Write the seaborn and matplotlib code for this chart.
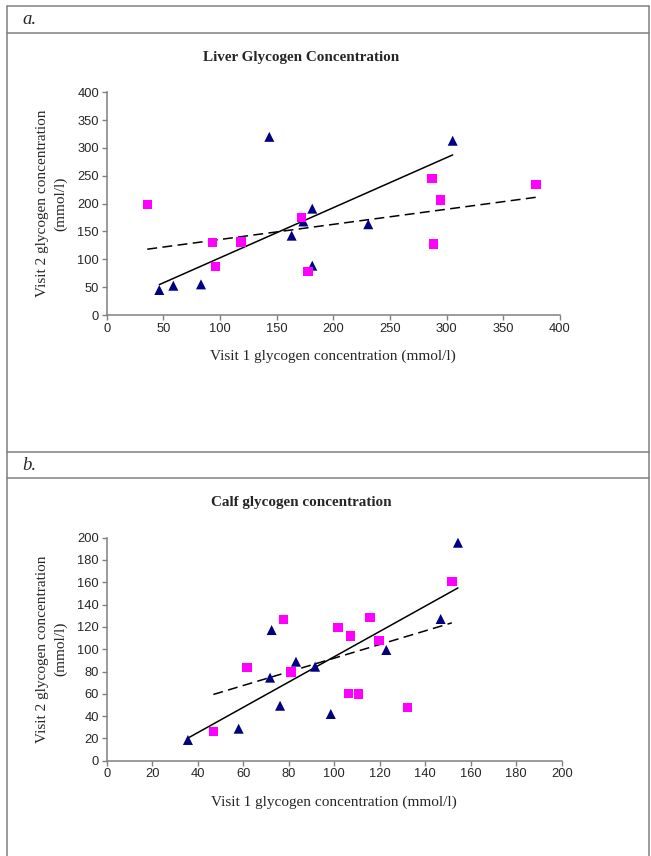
import pandas as pd
import matplotlib.pyplot as plt
import seaborn as sns
from matplotlib.lines import Line2D

# Liver glycogen (panel a)
liver_tri_v1 = [46.4, 58.8, 83.2, 143.5, 163.2, 173.5, 181.4, 181.4, 230.8, 305.3]
liver_tri_v2 = [44.9, 52.6, 55.0, 320.0, 142.5, 168.0, 191.0, 88.6, 163.0, 313.0]
liver_sq_v1 = [35.8, 93.2, 96.2, 118.5, 172.0, 177.6, 287.0, 294.7, 288.5, 379.0]
liver_sq_v2 = [198.0, 130.0, 86.8, 131.0, 174.8, 77.8, 245.5, 206.5, 127.5, 234.7]

# Calf glycogen (panel b)
calf_tri_v1 = [35.7, 58.0, 72.5, 71.8, 76.2, 83.2, 91.6, 98.5, 122.9, 146.8, 154.4]
calf_tri_v2 = [18.6, 28.7, 117.2, 74.5, 49.3, 88.8, 84.3, 41.9, 99.3, 127.1, 195.5]
calf_sq_v1 = [46.9, 61.7, 77.8, 81.0, 101.7, 107.1, 106.4, 110.8, 115.7, 119.7, 132.3, 151.7]
calf_sq_v2 = [26.0, 83.4, 126.5, 79.6, 119.3, 111.8, 60.1, 59.8, 128.3, 108.0, 47.9, 160.6]

liver_ticks = [0, 50, 100, 150, 200, 250, 300, 350, 400]
calf_ticks = [0, 20, 40, 60, 80, 100, 120, 140, 160, 180, 200]

sns.set_style('white')
serif = ['Liberation Serif', 'DejaVu Serif']
sans = ['Liberation Sans', 'DejaVu Sans']
grey = '#808080'

W, H = 651, 856
fig = plt.figure(figsize=(W / 100, H / 100), dpi=100)


def fx(px):
    return px / W


def fy(py):
    return 1 - py / H


# table frame
for y in [6, 33.3, 451.7, 478.3]:
    fig.add_artist(Line2D([fx(7.3), fx(649)], [fy(y), fy(y)], color=grey, lw=1.1))
for x in [7.3, 649]:
    fig.add_artist(Line2D([fx(x), fx(x)], [fy(6), 0], color=grey, lw=1.1))
fig.text(fx(22), fy(20), 'a.', family=serif, style='italic', fontsize=13.5, va='center', ha='left')
fig.text(fx(22), fy(465), 'b.', family=serif, style='italic', fontsize=13.5, va='center', ha='left')


def panel(rect, tri_x, tri_y, sq_x, sq_y, ticks, title, title_y):
    ax = fig.add_axes(rect)
    tri = pd.DataFrame({'v1': tri_x, 'v2': tri_y})
    sq = pd.DataFrame({'v1': sq_x, 'v2': sq_y})
    sns.scatterplot(data=tri, x='v1', y='v2', marker='^', color='#000080', s=52,
                    edgecolor='none', ax=ax, zorder=3)
    sns.scatterplot(data=sq, x='v1', y='v2', marker='s', color='#FF00FF', s=46,
                    edgecolor='none', ax=ax, zorder=3)
    sns.regplot(data=tri, x='v1', y='v2', scatter=False, ci=None, truncate=True,
                color='black', line_kws={'lw': 1.1}, ax=ax)
    sns.regplot(data=sq, x='v1', y='v2', scatter=False, ci=None, truncate=True,
                color='black', line_kws={'lw': 1.1, 'dashes': (6.5, 3.5)}, ax=ax)
    ax.set_xlim(ticks[0], ticks[-1])
    ax.set_ylim(ticks[0], ticks[-1])
    ax.set_xticks(ticks)
    ax.set_yticks(ticks)
    for lab in ax.get_xticklabels() + ax.get_yticklabels():
        lab.set_family(sans)
    ax.tick_params(axis='both', direction='out', length=3.5, width=1, color=grey,
                   labelsize=9.3, pad=2, bottom=True, left=True)
    sns.despine(ax=ax)
    for sp in ['left', 'bottom']:
        ax.spines[sp].set_color(grey)
        ax.spines[sp].set_linewidth(1.1)
    ax.set_ylabel('')
    ax.set_xlabel('Visit 1 glycogen concentration (mmol/l)', family=serif,
                  fontsize=11, labelpad=11)
    fig.text(fx(301), title_y, title, family=serif,
             fontweight='bold', fontsize=10.9, ha='center', va='center')
    fig.text(fx(52), rect[1] + rect[3] / 2, 'Visit 2 glycogen concentration\n(mmol/l)',
             family=serif, fontsize=11, rotation=90, ha='center', va='center',
             multialignment='center', linespacing=1.45)
    return ax


panel([fx(106.7), fy(315), (560 - 106.7) / W, (315 - 92.3) / H],
      liver_tri_v1, liver_tri_v2, liver_sq_v1, liver_sq_v2, liver_ticks,
      'Liver Glycogen Concentration', fy(57))
panel([fx(106.7), fy(760.7), (561.7 - 106.7) / W, (760.7 - 537.7) / H],
      calf_tri_v1, calf_tri_v2, calf_sq_v1, calf_sq_v2, calf_ticks,
      'Calf glycogen concentration', fy(502))

fig.savefig('out.png', dpi=100)
